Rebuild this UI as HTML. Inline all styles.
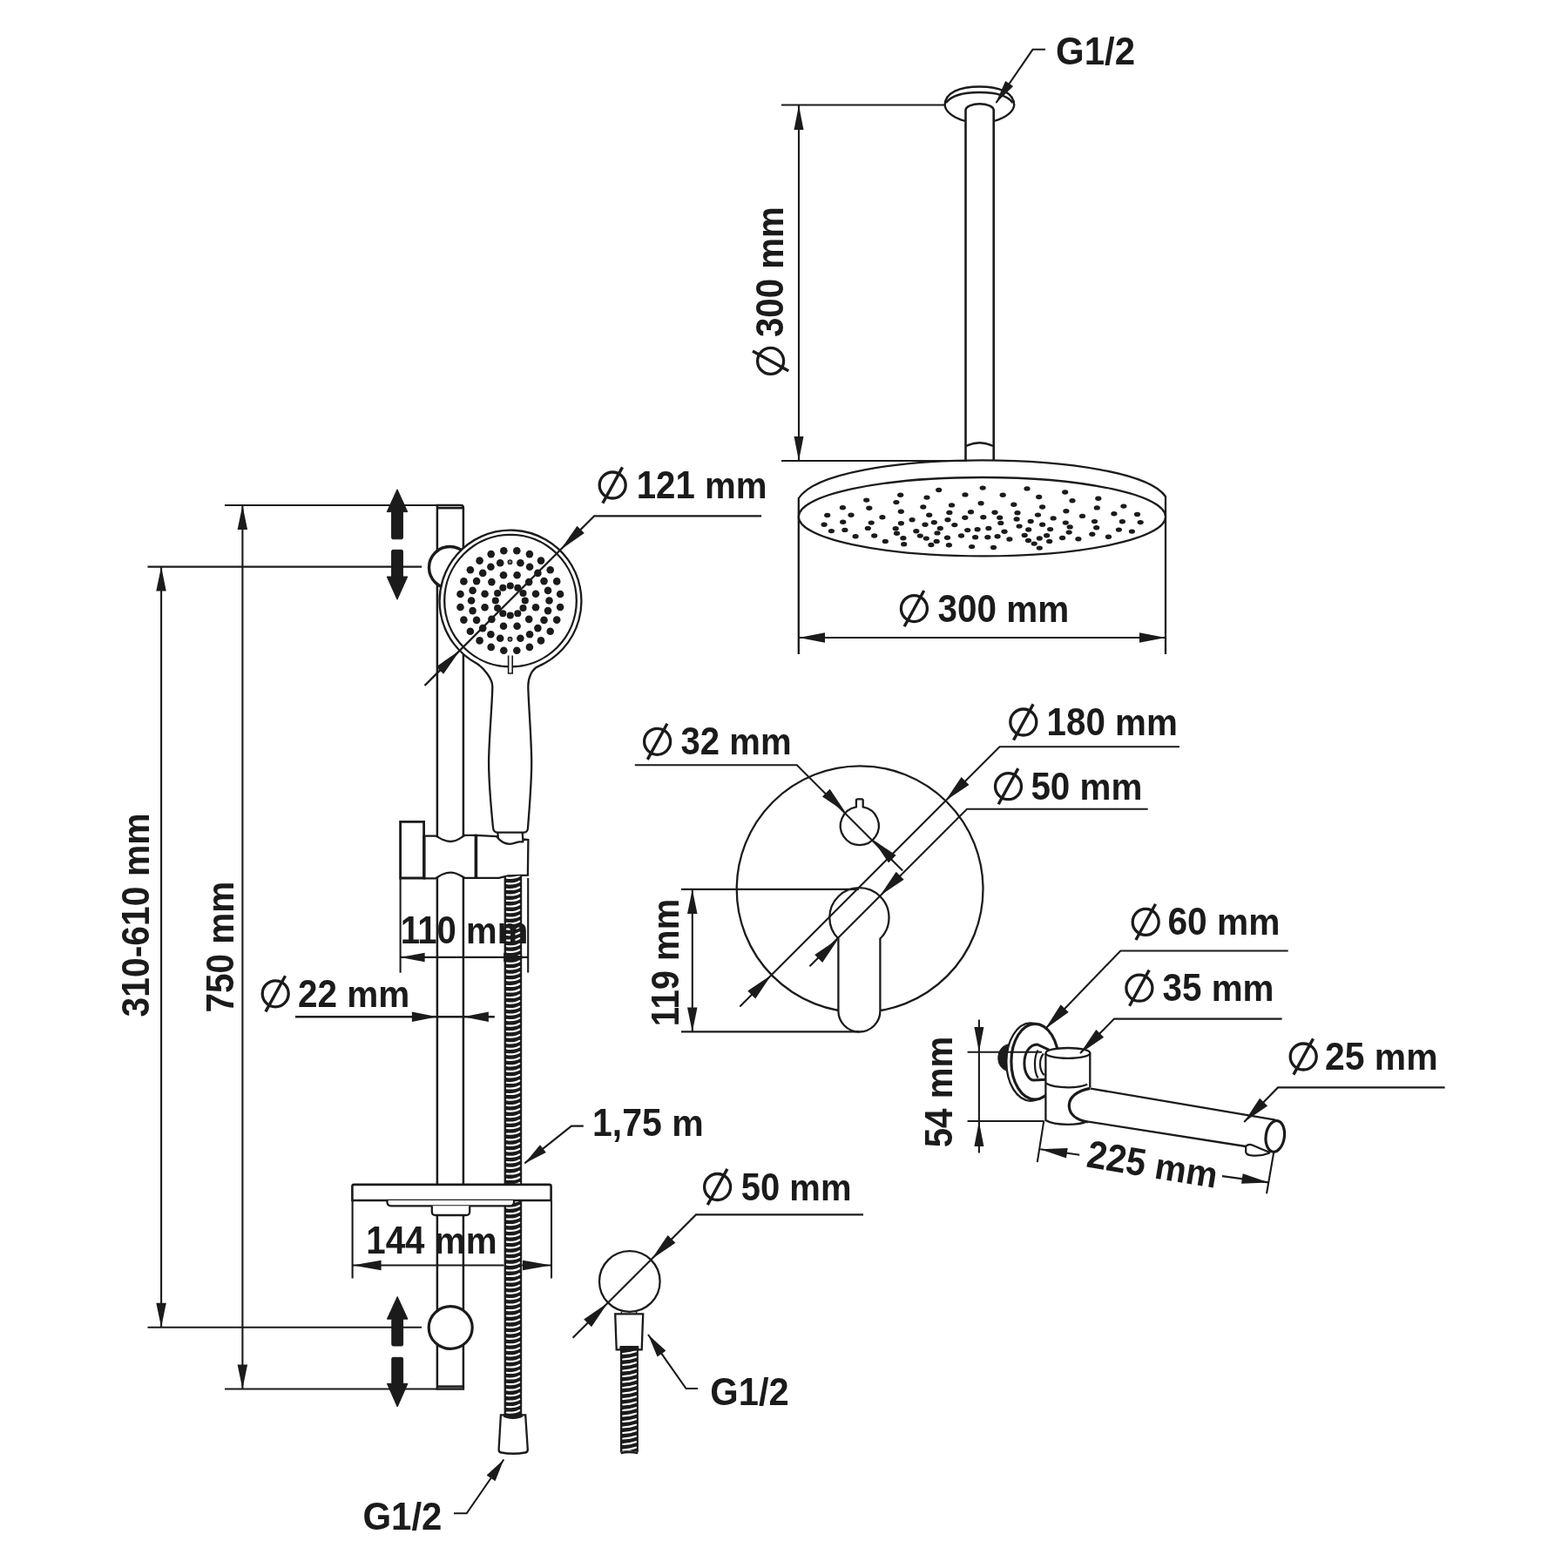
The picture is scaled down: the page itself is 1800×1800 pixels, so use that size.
<!DOCTYPE html>
<html><head><meta charset="utf-8"><title>Shower system dimensions</title>
<style>
html,body{margin:0;padding:0;background:#fff;}
svg{display:block}
text{font-family:"Liberation Sans",sans-serif;font-weight:bold;font-size:40px;fill:#1b1b1b;stroke:none}
svg{will-change:transform}
</style></head><body>
<svg width="1800" height="1800" viewBox="0 0 1800 1800" stroke="#1b1b1b" fill="none">
<rect width="1800" height="1800" fill="#fff" stroke="none"/>
<line x1="897.0" y1="120.5" x2="1084.0" y2="120.5" stroke-width="2.1" stroke-linecap="butt"/>
<line x1="897.0" y1="529.0" x2="1110.0" y2="529.0" stroke-width="2.1" stroke-linecap="butt"/>
<line x1="917.0" y1="121.0" x2="917.0" y2="529.0" stroke-width="2.1" stroke-linecap="butt"/>
<polygon points="917.0,121.0 922.5,149.0 911.5,149.0" fill="#1b1b1b" stroke="none"/>
<polygon points="917.0,529.0 911.5,501.0 922.5,501.0" fill="#1b1b1b" stroke="none"/>
<path d="M1084.6,121 C1084.6,106 1102,99.5 1124.5,99.5 C1147,99.5 1164.2,106 1164.2,121" stroke-width="2.3" fill="none" />
<path d="M1086,118 C1092,110 1106,106 1124.5,106 C1143,106 1157,110 1162.5,118" stroke-width="2.3" fill="none" />
<path d="M1084.6,120 C1084.6,127 1093,135 1108,139" stroke-width="2.3" fill="none" />
<path d="M1164.2,120 C1164.2,127 1156,135 1141,139" stroke-width="2.3" fill="none" />
<path d="M1108.5,528 V126.5 A16.1,7.3 0 0 1 1140.7,126.5 V528" stroke-width="2.6" fill="white" />
<path d="M1109,512 Q1124.5,504.5 1140,512" stroke-width="2.3" fill="none" />
<path d="M1200.0,56.8 L1185.5,56.8 L1143.5,118.0" stroke-width="2.1" fill="none" stroke-linejoin="miter"/>
<polygon points="1142.8,119.0 1154.2,92.9 1163.1,99.0" fill="#1b1b1b" stroke="none"/>
<g aria-label="G1/2" transform="translate(1212.02,74.00)"><g transform="scale(1.0494,1.1164)"><text y="0"><tspan x="0.00">G</tspan><tspan x="31.12">1</tspan><tspan x="53.36">/</tspan><tspan x="64.47">2</tspan></text></g></g>
<g aria-label="300 mm" transform="translate(899.20,387.11) rotate(-90)"><g transform="scale(1.0067,1.1200)"><text y="0"><tspan x="0.00">3</tspan><tspan x="22.25">0</tspan><tspan x="44.49">0</tspan></text></g><g transform="scale(1.0067,1.0528)"><text y="0"><tspan x="77.85">m</tspan><tspan x="113.42">m</tspan></text></g></g>
<g transform="rotate(-90 884.6 414.4)"><circle cx="884.6" cy="414.4" r="15" stroke-width="3.3" fill="none"/><line x1="873.3" y1="435.0" x2="895.9" y2="393.8" stroke-width="3.4" stroke-linecap="butt"/></g>
<path d="M916.8,751 V572 C935,543 1030,528.3 1127.4,528.3 C1225,528.3 1320,543 1338,570 V751" stroke-width="2.3" fill="none" />
<ellipse cx="1127.4" cy="593.2" rx="210.6" ry="45.2" stroke-width="2.3" fill="white"/>
<line x1="917.0" y1="732.0" x2="1338.0" y2="732.0" stroke-width="2.1" stroke-linecap="butt"/>
<polygon points="917.0,732.0 947.0,726.2 947.0,737.8" fill="#1b1b1b" stroke="none"/>
<polygon points="1338.0,732.0 1308.0,737.8 1308.0,726.2" fill="#1b1b1b" stroke="none"/>
<g><circle cx="1049.4" cy="698.6" r="15" stroke-width="3.3" fill="none"/><line x1="1038.1" y1="719.2" x2="1060.7" y2="678.0" stroke-width="3.4" stroke-linecap="butt"/></g>
<g aria-label="300 mm" transform="translate(1076.59,714.40)"><g transform="scale(1.0116,1.1164)"><text y="0"><tspan x="0.00">3</tspan><tspan x="22.25">0</tspan><tspan x="44.49">0</tspan></text></g><g transform="scale(1.0116,1.0494)"><text y="0"><tspan x="77.85">m</tspan><tspan x="113.42">m</tspan></text></g></g>
<g fill="#1b1b1b" stroke="none">
<ellipse cx="949.7" cy="591.5" rx="3.6" ry="2.7"/>
<ellipse cx="946.1" cy="602.3" rx="3.6" ry="2.7"/>
<ellipse cx="954.4" cy="609.6" rx="3.6" ry="2.7"/>
<ellipse cx="967.4" cy="582.7" rx="3.6" ry="2.7"/>
<ellipse cx="977.0" cy="591.3" rx="3.6" ry="2.7"/>
<ellipse cx="967.7" cy="599.2" rx="3.6" ry="2.7"/>
<ellipse cx="969.9" cy="608.4" rx="3.6" ry="2.7"/>
<ellipse cx="982.1" cy="615.7" rx="3.6" ry="2.7"/>
<ellipse cx="994.7" cy="574.1" rx="3.6" ry="2.7"/>
<ellipse cx="997.8" cy="583.2" rx="3.6" ry="2.7"/>
<ellipse cx="1000.2" cy="600.1" rx="3.6" ry="2.7"/>
<ellipse cx="996.3" cy="606.4" rx="3.6" ry="2.7"/>
<ellipse cx="1003.7" cy="615.0" rx="3.6" ry="2.7"/>
<ellipse cx="1012.9" cy="593.7" rx="3.6" ry="2.7"/>
<ellipse cx="1016.3" cy="621.4" rx="3.6" ry="2.7"/>
<ellipse cx="1033.7" cy="568.3" rx="3.6" ry="2.7"/>
<ellipse cx="1028.9" cy="576.6" rx="3.6" ry="2.7"/>
<ellipse cx="1034.3" cy="587.2" rx="3.6" ry="2.7"/>
<ellipse cx="1034.4" cy="600.7" rx="3.6" ry="2.7"/>
<ellipse cx="1028.2" cy="606.8" rx="3.6" ry="2.7"/>
<ellipse cx="1029.5" cy="612.3" rx="3.6" ry="2.7"/>
<ellipse cx="1036.9" cy="617.8" rx="3.6" ry="2.7"/>
<ellipse cx="1037.7" cy="624.7" rx="3.6" ry="2.7"/>
<ellipse cx="1047.1" cy="596.8" rx="3.6" ry="2.7"/>
<ellipse cx="1051.8" cy="609.8" rx="3.6" ry="2.7"/>
<ellipse cx="1056.3" cy="615.1" rx="3.6" ry="2.7"/>
<ellipse cx="1064.0" cy="571.1" rx="3.6" ry="2.7"/>
<ellipse cx="1059.8" cy="582.0" rx="3.6" ry="2.7"/>
<ellipse cx="1066.7" cy="591.3" rx="3.6" ry="2.7"/>
<ellipse cx="1062.0" cy="602.3" rx="3.6" ry="2.7"/>
<ellipse cx="1063.3" cy="618.1" rx="3.6" ry="2.7"/>
<ellipse cx="1068.9" cy="625.5" rx="3.6" ry="2.7"/>
<ellipse cx="1072.3" cy="599.7" rx="3.6" ry="2.7"/>
<ellipse cx="1079.3" cy="606.5" rx="3.6" ry="2.7"/>
<ellipse cx="1076.0" cy="611.9" rx="3.6" ry="2.7"/>
<ellipse cx="1075.2" cy="621.4" rx="3.6" ry="2.7"/>
<ellipse cx="1077.7" cy="562.5" rx="3.6" ry="2.7"/>
<ellipse cx="1092.5" cy="579.9" rx="3.6" ry="2.7"/>
<ellipse cx="1089.9" cy="588.4" rx="3.6" ry="2.7"/>
<ellipse cx="1088.0" cy="596.8" rx="3.6" ry="2.7"/>
<ellipse cx="1095.8" cy="602.6" rx="3.6" ry="2.7"/>
<ellipse cx="1087.5" cy="617.3" rx="3.6" ry="2.7"/>
<ellipse cx="1089.4" cy="625.7" rx="3.6" ry="2.7"/>
<ellipse cx="1108.0" cy="567.9" rx="3.6" ry="2.7"/>
<ellipse cx="1114.5" cy="587.8" rx="3.6" ry="2.7"/>
<ellipse cx="1107.8" cy="594.2" rx="3.6" ry="2.7"/>
<ellipse cx="1110.7" cy="608.6" rx="3.6" ry="2.7"/>
<ellipse cx="1103.5" cy="615.0" rx="3.6" ry="2.7"/>
<ellipse cx="1115.6" cy="627.6" rx="3.6" ry="2.7"/>
<ellipse cx="1128.2" cy="560.1" rx="3.6" ry="2.7"/>
<ellipse cx="1126.1" cy="577.8" rx="3.6" ry="2.7"/>
<ellipse cx="1128.8" cy="593.7" rx="3.6" ry="2.7"/>
<ellipse cx="1122.1" cy="607.8" rx="3.6" ry="2.7"/>
<ellipse cx="1119.6" cy="616.8" rx="3.6" ry="2.7"/>
<ellipse cx="1151.2" cy="568.3" rx="3.6" ry="2.7"/>
<ellipse cx="1179.0" cy="560.9" rx="3.6" ry="2.7"/>
<ellipse cx="1163.8" cy="579.3" rx="3.6" ry="2.7"/>
<ellipse cx="1142.0" cy="588.2" rx="3.6" ry="2.7"/>
<ellipse cx="1147.7" cy="594.2" rx="3.6" ry="2.7"/>
<ellipse cx="1148.8" cy="600.4" rx="3.6" ry="2.7"/>
<ellipse cx="1134.9" cy="606.5" rx="3.6" ry="2.7"/>
<ellipse cx="1153.0" cy="610.2" rx="3.6" ry="2.7"/>
<ellipse cx="1133.8" cy="616.8" rx="3.6" ry="2.7"/>
<ellipse cx="1145.1" cy="615.7" rx="3.6" ry="2.7"/>
<ellipse cx="1158.9" cy="619.0" rx="3.6" ry="2.7"/>
<ellipse cx="1140.5" cy="628.5" rx="3.6" ry="2.7"/>
<ellipse cx="1168.0" cy="588.8" rx="3.6" ry="2.7"/>
<ellipse cx="1167.1" cy="596.0" rx="3.6" ry="2.7"/>
<ellipse cx="1170.1" cy="604.1" rx="3.6" ry="2.7"/>
<ellipse cx="1183.2" cy="598.5" rx="3.6" ry="2.7"/>
<ellipse cx="1180.7" cy="608.0" rx="3.6" ry="2.7"/>
<ellipse cx="1176.2" cy="614.5" rx="3.6" ry="2.7"/>
<ellipse cx="1180.5" cy="620.5" rx="3.6" ry="2.7"/>
<ellipse cx="1187.2" cy="624.1" rx="3.6" ry="2.7"/>
<ellipse cx="1193.3" cy="629.1" rx="3.6" ry="2.7"/>
<ellipse cx="1192.7" cy="570.5" rx="3.6" ry="2.7"/>
<ellipse cx="1196.6" cy="582.0" rx="3.6" ry="2.7"/>
<ellipse cx="1191.5" cy="591.1" rx="3.6" ry="2.7"/>
<ellipse cx="1196.6" cy="602.3" rx="3.6" ry="2.7"/>
<ellipse cx="1205.6" cy="607.6" rx="3.6" ry="2.7"/>
<ellipse cx="1201.6" cy="614.8" rx="3.6" ry="2.7"/>
<ellipse cx="1193.3" cy="618.0" rx="3.6" ry="2.7"/>
<ellipse cx="1204.7" cy="621.4" rx="3.6" ry="2.7"/>
<ellipse cx="1209.2" cy="594.9" rx="3.6" ry="2.7"/>
<ellipse cx="1222.7" cy="565.0" rx="3.6" ry="2.7"/>
<ellipse cx="1231.0" cy="574.8" rx="3.6" ry="2.7"/>
<ellipse cx="1223.9" cy="586.7" rx="3.6" ry="2.7"/>
<ellipse cx="1223.3" cy="600.1" rx="3.6" ry="2.7"/>
<ellipse cx="1228.2" cy="604.9" rx="3.6" ry="2.7"/>
<ellipse cx="1227.2" cy="611.1" rx="3.6" ry="2.7"/>
<ellipse cx="1219.6" cy="617.5" rx="3.6" ry="2.7"/>
<ellipse cx="1237.9" cy="618.8" rx="3.6" ry="2.7"/>
<ellipse cx="1242.5" cy="592.4" rx="3.6" ry="2.7"/>
<ellipse cx="1260.8" cy="572.3" rx="3.6" ry="2.7"/>
<ellipse cx="1259.3" cy="582.9" rx="3.6" ry="2.7"/>
<ellipse cx="1256.5" cy="598.6" rx="3.6" ry="2.7"/>
<ellipse cx="1258.7" cy="605.7" rx="3.6" ry="2.7"/>
<ellipse cx="1253.8" cy="613.3" rx="3.6" ry="2.7"/>
<ellipse cx="1272.5" cy="616.3" rx="3.6" ry="2.7"/>
<ellipse cx="1278.9" cy="589.8" rx="3.6" ry="2.7"/>
<ellipse cx="1289.9" cy="581.1" rx="3.6" ry="2.7"/>
<ellipse cx="1288.4" cy="598.8" rx="3.6" ry="2.7"/>
<ellipse cx="1284.4" cy="608.1" rx="3.6" ry="2.7"/>
<ellipse cx="1299.4" cy="610.1" rx="3.6" ry="2.7"/>
<ellipse cx="1305.5" cy="590.5" rx="3.6" ry="2.7"/>
<ellipse cx="1309.2" cy="599.6" rx="3.6" ry="2.7"/>
</g>
<line x1="258.0" y1="580.0" x2="501.9" y2="580.0" stroke-width="2.1" stroke-linecap="butt"/>
<line x1="258.0" y1="1594.5" x2="501.9" y2="1594.5" stroke-width="2.1" stroke-linecap="butt"/>
<line x1="278.4" y1="580.0" x2="278.4" y2="1594.5" stroke-width="2.1" stroke-linecap="butt"/>
<polygon points="278.4,580.0 284.1,608.0 272.6,608.0" fill="#1b1b1b" stroke="none"/>
<polygon points="278.4,1594.5 272.6,1566.5 284.1,1566.5" fill="#1b1b1b" stroke="none"/>
<line x1="169.5" y1="650.6" x2="484.0" y2="650.6" stroke-width="2.1" stroke-linecap="butt"/>
<line x1="169.5" y1="1523.8" x2="484.0" y2="1523.8" stroke-width="2.1" stroke-linecap="butt"/>
<line x1="185.1" y1="650.6" x2="185.1" y2="1523.8" stroke-width="2.1" stroke-linecap="butt"/>
<polygon points="185.1,650.6 190.8,678.6 179.3,678.6" fill="#1b1b1b" stroke="none"/>
<polygon points="185.1,1523.8 179.3,1495.8 190.8,1495.8" fill="#1b1b1b" stroke="none"/>
<g aria-label="310-610 mm" transform="translate(170.80,1167.62) rotate(-90)"><g transform="scale(1.0231,1.1200)"><text y="0"><tspan x="0.00">3</tspan><tspan x="22.25">1</tspan><tspan x="44.49">0</tspan><tspan x="66.74">-</tspan><tspan x="80.06">6</tspan><tspan x="102.31">1</tspan><tspan x="124.55">0</tspan></text></g><g transform="scale(1.0231,1.0528)"><text y="0"><tspan x="157.91">m</tspan><tspan x="193.48">m</tspan></text></g></g>
<g aria-label="750 mm" transform="translate(267.50,1162.52) rotate(-90)"><g transform="scale(1.0123,1.1200)"><text y="0"><tspan x="0.00">7</tspan><tspan x="22.25">5</tspan><tspan x="44.49">0</tspan></text></g><g transform="scale(1.0123,1.0528)"><text y="0"><tspan x="77.85">m</tspan><tspan x="113.42">m</tspan></text></g></g>
<path d="M501.9,1594.5 V580 H529 Q531.9,580 531.9,583 V1594.5 Z" stroke-width="2.5" fill="white" />
<line x1="501.9" y1="583.2" x2="531.9" y2="583.2" stroke-width="2.5" stroke-linecap="butt"/>
<line x1="501.9" y1="1591.6" x2="531.9" y2="1591.6" stroke-width="2.5" stroke-linecap="butt"/>
<circle cx="516.5" cy="651.5" r="24.0" stroke-width="3.4" fill="white"/>
<ellipse cx="517.2" cy="1524.0" rx="25.0" ry="24.3" stroke-width="3.2" fill="white"/>
<path d="M456,561.8 L467.8,587.6 H462.4 V617.3 Q462.4,618.8 460.9,618.8 H451.1 Q449.6,618.8 449.6,617.3 V587.6 H444.2 Z" fill="#1b1b1b" stroke="#1b1b1b" stroke-width="1" stroke-linejoin="round"/>
<path d="M456,688.2 L467.8,662 H462.4 V632.8 Q462.4,631.3 460.9,631.3 H451.1 Q449.6,631.3 449.6,632.8 V662 H444.2 Z" fill="#1b1b1b" stroke="#1b1b1b" stroke-width="1" stroke-linejoin="round"/>
<path d="M456.2,1488.5 L468.0,1514.2 H462.59999999999997 V1543.5 Q462.59999999999997,1545 461.09999999999997,1545 H451.3 Q449.8,1545 449.8,1543.5 V1514.2 H444.4 Z" fill="#1b1b1b" stroke="#1b1b1b" stroke-width="1" stroke-linejoin="round"/>
<path d="M456.2,1615 L468.0,1588.3 H462.59999999999997 V1559.8 Q462.59999999999997,1558.3 461.09999999999997,1558.3 H451.3 Q449.8,1558.3 449.8,1559.8 V1588.3 H444.4 Z" fill="#1b1b1b" stroke="#1b1b1b" stroke-width="1" stroke-linejoin="round"/>
<path d="M571,955.6 Q566.5,955.5 566,950 C564,930 561.1,900 561.1,875 C561.1,850 565.3,805 565.3,788 C565.3,779 555,766.5 547,761.5 A81.4,81.4 0 1 1 618,764.9 C610.6,768 606.3,778 606.3,788 C606.5,805 610.2,850 610.2,875 C610.2,900 607.5,930 606,950.5 Q605.7,955.5 601.5,955.6 Z" stroke-width="2.3" fill="white" />
<circle cx="586.0" cy="689.6" r="75.8" stroke-width="2.3" fill="none"/>
<g fill="#1b1b1b" stroke="none">
<circle cx="585.8" cy="672.5" r="4.05"/>
<circle cx="594.3" cy="674.8" r="4.05"/>
<circle cx="600.5" cy="681.0" r="4.05"/>
<circle cx="602.8" cy="689.5" r="4.05"/>
<circle cx="600.5" cy="698.0" r="4.05"/>
<circle cx="594.3" cy="704.2" r="4.05"/>
<circle cx="585.8" cy="706.5" r="4.05"/>
<circle cx="577.3" cy="704.2" r="4.05"/>
<circle cx="571.1" cy="698.0" r="4.05"/>
<circle cx="568.8" cy="689.5" r="4.05"/>
<circle cx="571.1" cy="681.0" r="4.05"/>
<circle cx="577.3" cy="674.8" r="4.05"/>
<circle cx="593.6" cy="660.3" r="4.3"/>
<circle cx="607.2" cy="668.1" r="4.3"/>
<circle cx="615.0" cy="681.7" r="4.3"/>
<circle cx="615.0" cy="697.3" r="4.3"/>
<circle cx="607.2" cy="710.9" r="4.3"/>
<circle cx="593.6" cy="718.7" r="4.3"/>
<circle cx="578.0" cy="718.7" r="4.3"/>
<circle cx="564.4" cy="710.9" r="4.3"/>
<circle cx="556.6" cy="697.3" r="4.3"/>
<circle cx="556.6" cy="681.7" r="4.3"/>
<circle cx="564.4" cy="668.1" r="4.3"/>
<circle cx="578.0" cy="660.3" r="4.3"/>
<circle cx="597.4" cy="646.3" r="4.3"/>
<circle cx="608.1" cy="650.8" r="4.3"/>
<circle cx="617.4" cy="657.9" r="4.3"/>
<circle cx="624.5" cy="667.1" r="4.3"/>
<circle cx="629.0" cy="677.9" r="4.3"/>
<circle cx="630.5" cy="689.5" r="4.3"/>
<circle cx="629.0" cy="701.1" r="4.3"/>
<circle cx="624.5" cy="711.9" r="4.3"/>
<circle cx="617.4" cy="721.1" r="4.3"/>
<circle cx="608.1" cy="728.2" r="4.3"/>
<circle cx="597.4" cy="732.7" r="4.3"/>
<circle cx="574.2" cy="732.7" r="4.3"/>
<circle cx="563.4" cy="728.2" r="4.3"/>
<circle cx="554.2" cy="721.1" r="4.3"/>
<circle cx="547.1" cy="711.9" r="4.3"/>
<circle cx="542.6" cy="701.1" r="4.3"/>
<circle cx="541.1" cy="689.5" r="4.3"/>
<circle cx="542.6" cy="677.9" r="4.3"/>
<circle cx="547.1" cy="667.1" r="4.3"/>
<circle cx="554.2" cy="657.9" r="4.3"/>
<circle cx="563.4" cy="650.8" r="4.3"/>
<circle cx="574.2" cy="646.3" r="4.3"/>
<circle cx="593.3" cy="632.2" r="4.3"/>
<circle cx="607.9" cy="636.1" r="4.3"/>
<circle cx="621.0" cy="643.6" r="4.3"/>
<circle cx="631.7" cy="654.3" r="4.3"/>
<circle cx="639.2" cy="667.4" r="4.3"/>
<circle cx="643.1" cy="682.0" r="4.3"/>
<circle cx="643.1" cy="697.0" r="4.3"/>
<circle cx="639.2" cy="711.6" r="4.3"/>
<circle cx="631.7" cy="724.7" r="4.3"/>
<circle cx="621.0" cy="735.4" r="4.3"/>
<circle cx="607.9" cy="742.9" r="4.3"/>
<circle cx="593.3" cy="746.8" r="4.3"/>
<circle cx="578.3" cy="746.8" r="4.3"/>
<circle cx="563.7" cy="742.9" r="4.3"/>
<circle cx="550.6" cy="735.4" r="4.3"/>
<circle cx="539.9" cy="724.7" r="4.3"/>
<circle cx="532.4" cy="711.6" r="4.3"/>
<circle cx="528.5" cy="697.0" r="4.3"/>
<circle cx="528.5" cy="682.0" r="4.3"/>
<circle cx="532.4" cy="667.4" r="4.3"/>
<circle cx="539.9" cy="654.3" r="4.3"/>
<circle cx="550.6" cy="643.6" r="4.3"/>
<circle cx="563.7" cy="636.1" r="4.3"/>
<circle cx="578.3" cy="632.2" r="4.3"/>
</g>
<circle cx="585.5" cy="645.2" r="2.3" stroke-width="1.3" fill="#777"/>
<circle cx="585.5" cy="733.8" r="2.3" stroke-width="1.3" fill="#777"/>
<path d="M583.6,752.5 V773 H588.2 V752.5" stroke-width="1.6" fill="white" />
<path d="M874.0,592.3 L682.2,592.3 L487.5,787.0" stroke-width="2.3" fill="none" stroke-linejoin="miter"/>
<polygon points="643.3,631.2 662.5,603.7 670.8,612.0" fill="#1b1b1b" stroke="none"/>
<polygon points="528.3,746.2 509.1,773.7 500.8,765.4" fill="#1b1b1b" stroke="none"/>
<g><circle cx="703.2" cy="557.0" r="15" stroke-width="3.3" fill="none"/><line x1="691.9" y1="577.6" x2="714.5" y2="536.4" stroke-width="3.4" stroke-linecap="butt"/></g>
<g aria-label="121 mm" transform="translate(730.72,572.00)"><g transform="scale(1.0052,1.1164)"><text y="0"><tspan x="0.00">1</tspan><tspan x="22.25">2</tspan><tspan x="44.49">1</tspan></text></g><g transform="scale(1.0052,1.0494)"><text y="0"><tspan x="77.85">m</tspan><tspan x="113.42">m</tspan></text></g></g>
<path d="M571.3,955.5 L571.9,962 M599.7,955.5 L600.4,965" stroke-width="2.3" fill="none" />
<path d="M459.6,943.3 H486.6 V1008 H459.6 Z" stroke-width="2.8" fill="white" />
<path d="M487,959.7 H500 C504,960.5 508,966 517,966 C526,966 530,960.5 533.5,958.9 L546.3,958.9 V1007.9 L533.5,1007.9 C530,1006.5 526,1001.6 517,1001.6 C508,1001.6 504,1006.5 500,1008.3 H487 Z" stroke-width="2.3" fill="white" />
<path d="M546.3,958.9 L570,960.2 C573,964 578,968.6 585,968.8 C590,968.8 593.5,966.6 596,966.3 L600.2,966.3 L601,963.6 L606.4,964.1 L605.9,1004.6 L583,1005.5 L572.7,1007.9 L546.3,1007.9 Z" stroke-width="2.3" fill="white" />
<line x1="546.4" y1="958.6" x2="546.4" y2="1008.2" stroke-width="3.6" stroke-linecap="butt"/>
<line x1="486.9" y1="959.4" x2="486.9" y2="1008.6" stroke-width="3.2" stroke-linecap="butt"/>
<line x1="459.6" y1="1009.0" x2="459.6" y2="1116.7" stroke-width="2.1" stroke-linecap="butt"/>
<line x1="606.2" y1="1008.0" x2="606.2" y2="1116.5" stroke-width="2.1" stroke-linecap="butt"/>
<rect x="578.6" y="1005.5" width="20.600000000000023" height="354.5" fill="#1b1b1b" stroke="none"/>
<clipPath id="c578_1005"><rect x="578.6" y="1005.5" width="20.600000000000023" height="354.5"/></clipPath>
<g clip-path="url(#c578_1005)" stroke="#fff" stroke-width="2.2" fill="none" stroke-linecap="round">
<path d="M581.9,1007.7 C588.9,1008.4 593.0,1007.5 596.2,1005.4"/>
<path d="M581.9,1014.2 C588.9,1014.9 593.0,1014.0 596.2,1011.9"/>
<path d="M581.9,1020.8 C588.9,1021.5 593.0,1020.6 596.2,1018.5"/>
<path d="M581.9,1027.3 C588.9,1028.0 593.0,1027.1 596.2,1025.0"/>
<path d="M581.9,1033.8 C588.9,1034.5 593.0,1033.6 596.2,1031.5"/>
<path d="M581.9,1040.3 C588.9,1041.0 593.0,1040.1 596.2,1038.0"/>
<path d="M581.9,1046.9 C588.9,1047.6 593.0,1046.7 596.2,1044.6"/>
<path d="M581.9,1053.4 C588.9,1054.1 593.0,1053.2 596.2,1051.1"/>
<path d="M581.9,1059.9 C588.9,1060.6 593.0,1059.7 596.2,1057.6"/>
<path d="M581.9,1066.5 C588.9,1067.2 593.0,1066.3 596.2,1064.2"/>
<path d="M581.9,1073.0 C588.9,1073.7 593.0,1072.8 596.2,1070.7"/>
<path d="M581.9,1079.5 C588.9,1080.2 593.0,1079.3 596.2,1077.2"/>
<path d="M581.9,1086.1 C588.9,1086.8 593.0,1085.9 596.2,1083.8"/>
<path d="M581.9,1092.6 C588.9,1093.3 593.0,1092.4 596.2,1090.3"/>
<path d="M581.9,1099.1 C588.9,1099.8 593.0,1098.9 596.2,1096.8"/>
<path d="M581.9,1105.6 C588.9,1106.3 593.0,1105.4 596.2,1103.3"/>
<path d="M581.9,1112.2 C588.9,1112.9 593.0,1112.0 596.2,1109.9"/>
<path d="M581.9,1118.7 C588.9,1119.4 593.0,1118.5 596.2,1116.4"/>
<path d="M581.9,1125.2 C588.9,1125.9 593.0,1125.0 596.2,1122.9"/>
<path d="M581.9,1131.8 C588.9,1132.5 593.0,1131.6 596.2,1129.5"/>
<path d="M581.9,1138.3 C588.9,1139.0 593.0,1138.1 596.2,1136.0"/>
<path d="M581.9,1144.8 C588.9,1145.5 593.0,1144.6 596.2,1142.5"/>
<path d="M581.9,1151.4 C588.9,1152.1 593.0,1151.2 596.2,1149.1"/>
<path d="M581.9,1157.9 C588.9,1158.6 593.0,1157.7 596.2,1155.6"/>
<path d="M581.9,1164.4 C588.9,1165.1 593.0,1164.2 596.2,1162.1"/>
<path d="M581.9,1170.9 C588.9,1171.6 593.0,1170.7 596.2,1168.6"/>
<path d="M581.9,1177.5 C588.9,1178.2 593.0,1177.3 596.2,1175.2"/>
<path d="M581.9,1184.0 C588.9,1184.7 593.0,1183.8 596.2,1181.7"/>
<path d="M581.9,1190.5 C588.9,1191.2 593.0,1190.3 596.2,1188.2"/>
<path d="M581.9,1197.1 C588.9,1197.8 593.0,1196.9 596.2,1194.8"/>
<path d="M581.9,1203.6 C588.9,1204.3 593.0,1203.4 596.2,1201.3"/>
<path d="M581.9,1210.1 C588.9,1210.8 593.0,1209.9 596.2,1207.8"/>
<path d="M581.9,1216.7 C588.9,1217.4 593.0,1216.5 596.2,1214.4"/>
<path d="M581.9,1223.2 C588.9,1223.9 593.0,1223.0 596.2,1220.9"/>
<path d="M581.9,1229.7 C588.9,1230.4 593.0,1229.5 596.2,1227.4"/>
<path d="M581.9,1236.2 C588.9,1236.9 593.0,1236.0 596.2,1233.9"/>
<path d="M581.9,1242.8 C588.9,1243.5 593.0,1242.6 596.2,1240.5"/>
<path d="M581.9,1249.3 C588.9,1250.0 593.0,1249.1 596.2,1247.0"/>
<path d="M581.9,1255.8 C588.9,1256.5 593.0,1255.6 596.2,1253.5"/>
<path d="M581.9,1262.4 C588.9,1263.1 593.0,1262.2 596.2,1260.1"/>
<path d="M581.9,1268.9 C588.9,1269.6 593.0,1268.7 596.2,1266.6"/>
<path d="M581.9,1275.4 C588.9,1276.1 593.0,1275.2 596.2,1273.1"/>
<path d="M581.9,1282.0 C588.9,1282.7 593.0,1281.8 596.2,1279.7"/>
<path d="M581.9,1288.5 C588.9,1289.2 593.0,1288.3 596.2,1286.2"/>
<path d="M581.9,1295.0 C588.9,1295.7 593.0,1294.8 596.2,1292.7"/>
<path d="M581.9,1301.5 C588.9,1302.2 593.0,1301.3 596.2,1299.2"/>
<path d="M581.9,1308.1 C588.9,1308.8 593.0,1307.9 596.2,1305.8"/>
<path d="M581.9,1314.6 C588.9,1315.3 593.0,1314.4 596.2,1312.3"/>
<path d="M581.9,1321.1 C588.9,1321.8 593.0,1320.9 596.2,1318.8"/>
<path d="M581.9,1327.7 C588.9,1328.4 593.0,1327.5 596.2,1325.4"/>
<path d="M581.9,1334.2 C588.9,1334.9 593.0,1334.0 596.2,1331.9"/>
<path d="M581.9,1340.7 C588.9,1341.4 593.0,1340.5 596.2,1338.4"/>
<path d="M581.9,1347.3 C588.9,1348.0 593.0,1347.1 596.2,1345.0"/>
<path d="M581.9,1353.8 C588.9,1354.5 593.0,1353.6 596.2,1351.5"/>
<path d="M581.9,1360.3 C588.9,1361.0 593.0,1360.1 596.2,1358.0"/>
</g>
<rect x="578.6" y="1378.5" width="20.600000000000023" height="250.0" fill="#1b1b1b" stroke="none"/>
<clipPath id="c578_1378"><rect x="578.6" y="1378.5" width="20.600000000000023" height="250.0"/></clipPath>
<g clip-path="url(#c578_1378)" stroke="#fff" stroke-width="2.2" fill="none" stroke-linecap="round">
<path d="M581.9,1379.9 C588.9,1380.6 593.0,1379.7 596.2,1377.6"/>
<path d="M581.9,1386.4 C588.9,1387.1 593.0,1386.2 596.2,1384.1"/>
<path d="M581.9,1393.0 C588.9,1393.7 593.0,1392.8 596.2,1390.7"/>
<path d="M581.9,1399.5 C588.9,1400.2 593.0,1399.3 596.2,1397.2"/>
<path d="M581.9,1406.0 C588.9,1406.7 593.0,1405.8 596.2,1403.7"/>
<path d="M581.9,1412.6 C588.9,1413.3 593.0,1412.4 596.2,1410.3"/>
<path d="M581.9,1419.1 C588.9,1419.8 593.0,1418.9 596.2,1416.8"/>
<path d="M581.9,1425.6 C588.9,1426.3 593.0,1425.4 596.2,1423.3"/>
<path d="M581.9,1432.1 C588.9,1432.8 593.0,1431.9 596.2,1429.8"/>
<path d="M581.9,1438.7 C588.9,1439.4 593.0,1438.5 596.2,1436.4"/>
<path d="M581.9,1445.2 C588.9,1445.9 593.0,1445.0 596.2,1442.9"/>
<path d="M581.9,1451.7 C588.9,1452.4 593.0,1451.5 596.2,1449.4"/>
<path d="M581.9,1458.3 C588.9,1459.0 593.0,1458.1 596.2,1456.0"/>
<path d="M581.9,1464.8 C588.9,1465.5 593.0,1464.6 596.2,1462.5"/>
<path d="M581.9,1471.3 C588.9,1472.0 593.0,1471.1 596.2,1469.0"/>
<path d="M581.9,1477.9 C588.9,1478.6 593.0,1477.7 596.2,1475.6"/>
<path d="M581.9,1484.4 C588.9,1485.1 593.0,1484.2 596.2,1482.1"/>
<path d="M581.9,1490.9 C588.9,1491.6 593.0,1490.7 596.2,1488.6"/>
<path d="M581.9,1497.4 C588.9,1498.1 593.0,1497.2 596.2,1495.1"/>
<path d="M581.9,1504.0 C588.9,1504.7 593.0,1503.8 596.2,1501.7"/>
<path d="M581.9,1510.5 C588.9,1511.2 593.0,1510.3 596.2,1508.2"/>
<path d="M581.9,1517.0 C588.9,1517.7 593.0,1516.8 596.2,1514.7"/>
<path d="M581.9,1523.6 C588.9,1524.3 593.0,1523.4 596.2,1521.3"/>
<path d="M581.9,1530.1 C588.9,1530.8 593.0,1529.9 596.2,1527.8"/>
<path d="M581.9,1536.6 C588.9,1537.3 593.0,1536.4 596.2,1534.3"/>
<path d="M581.9,1543.2 C588.9,1543.9 593.0,1543.0 596.2,1540.9"/>
<path d="M581.9,1549.7 C588.9,1550.4 593.0,1549.5 596.2,1547.4"/>
<path d="M581.9,1556.2 C588.9,1556.9 593.0,1556.0 596.2,1553.9"/>
<path d="M581.9,1562.7 C588.9,1563.4 593.0,1562.5 596.2,1560.4"/>
<path d="M581.9,1569.3 C588.9,1570.0 593.0,1569.1 596.2,1567.0"/>
<path d="M581.9,1575.8 C588.9,1576.5 593.0,1575.6 596.2,1573.5"/>
<path d="M581.9,1582.3 C588.9,1583.0 593.0,1582.1 596.2,1580.0"/>
<path d="M581.9,1588.9 C588.9,1589.6 593.0,1588.7 596.2,1586.6"/>
<path d="M581.9,1595.4 C588.9,1596.1 593.0,1595.2 596.2,1593.1"/>
<path d="M581.9,1601.9 C588.9,1602.6 593.0,1601.7 596.2,1599.6"/>
<path d="M581.9,1608.5 C588.9,1609.2 593.0,1608.3 596.2,1606.2"/>
<path d="M581.9,1615.0 C588.9,1615.7 593.0,1614.8 596.2,1612.7"/>
<path d="M581.9,1621.5 C588.9,1622.2 593.0,1621.3 596.2,1619.2"/>
<path d="M581.9,1628.0 C588.9,1628.7 593.0,1627.8 596.2,1625.7"/>
</g>
<line x1="459.6" y1="1098.9" x2="606.2" y2="1098.9" stroke-width="2.1" stroke-linecap="butt"/>
<polygon points="459.6,1098.9 487.6,1093.7 487.6,1104.2" fill="#1b1b1b" stroke="none"/>
<polygon points="606.2,1098.9 578.2,1104.2 578.2,1093.7" fill="#1b1b1b" stroke="none"/>
<g aria-label="110 mm" transform="translate(459.63,1083.30)"><g transform="scale(1.0024,1.1164)"><text y="0"><tspan x="0.00">1</tspan><tspan x="19.65">1</tspan><tspan x="41.89">0</tspan></text></g><g transform="scale(1.0024,1.0494)"><text y="0"><tspan x="75.25">m</tspan><tspan x="110.82">m</tspan></text></g></g>
<line x1="339.0" y1="1167.3" x2="567.8" y2="1167.3" stroke-width="2.6" stroke-linecap="butt"/>
<polygon points="501.9,1167.3 472.9,1173.0 472.9,1161.5" fill="#1b1b1b" stroke="none"/>
<polygon points="531.9,1167.3 560.9,1161.5 560.9,1173.0" fill="#1b1b1b" stroke="none"/>
<g><circle cx="316.2" cy="1140.8" r="15" stroke-width="3.3" fill="none"/><line x1="304.9" y1="1161.4" x2="327.5" y2="1120.2" stroke-width="3.4" stroke-linecap="butt"/></g>
<g aria-label="22 mm" transform="translate(341.88,1155.60)"><g transform="scale(1.0133,1.1164)"><text y="0"><tspan x="0.00">2</tspan><tspan x="22.25">2</tspan></text></g><g transform="scale(1.0133,1.0494)"><text y="0"><tspan x="55.61">m</tspan><tspan x="91.17">m</tspan></text></g></g>
<path d="M669.8,1292.6 L656.0,1292.6 L602.3,1335.4" stroke-width="2.1" fill="none" stroke-linejoin="miter"/>
<polygon points="602.3,1335.4 620.0,1314.3 626.8,1322.9" fill="#1b1b1b" stroke="none"/>
<g aria-label="1,75 m" transform="translate(679.96,1304.30)"><g transform="scale(1.0260,1.1164)"><text y="0"><tspan x="0.00">1</tspan><tspan x="22.25">,</tspan><tspan x="33.36">7</tspan><tspan x="55.61">5</tspan></text></g><g transform="scale(1.0260,1.0494)"><text y="0"><tspan x="88.96">m</tspan></text></g></g>
<path d="M404.4,1378 V1362 Q404.4,1359.9 406.5,1359.9 H630.5 Q632.6,1359.9 632.6,1362 V1378 Z" stroke-width="2.6" fill="white" />
<path d="M444.5,1378 V1380 Q444.5,1384.3 449,1384.3 H585.5 Q590,1384.3 590,1380 V1378" stroke-width="2.3" fill="white" />
<path d="M495.8,1384.3 V1391 Q495.8,1395 500,1395 H535 Q539.2,1395 539.2,1391 V1384.3" stroke-width="2.3" fill="white" />
<line x1="404.6" y1="1379.0" x2="404.6" y2="1467.5" stroke-width="2.1" stroke-linecap="butt"/>
<line x1="633.0" y1="1379.0" x2="633.0" y2="1467.5" stroke-width="2.1" stroke-linecap="butt"/>
<line x1="404.6" y1="1452.5" x2="578.6" y2="1452.5" stroke-width="2.1" stroke-linecap="butt"/>
<line x1="599.2" y1="1452.5" x2="633.0" y2="1452.5" stroke-width="2.1" stroke-linecap="butt"/>
<polygon points="404.6,1452.5 437.6,1446.8 437.6,1458.2" fill="#1b1b1b" stroke="none"/>
<polygon points="633.0,1452.5 600.0,1458.2 600.0,1446.8" fill="#1b1b1b" stroke="none"/>
<g aria-label="144 mm" transform="translate(420.21,1439.20)"><g transform="scale(1.0094,1.1164)"><text y="0"><tspan x="0.00">1</tspan><tspan x="22.25">4</tspan><tspan x="44.49">4</tspan></text></g><g transform="scale(1.0094,1.0494)"><text y="0"><tspan x="77.85">m</tspan><tspan x="113.42">m</tspan></text></g></g>
<path d="M574.9,1624.3 H603.2 L605.8,1664 Q605.9,1667 603,1667.5 Q589,1670 575.5,1667.5 Q572.4,1667 572.6,1664 Z" stroke-width="2.3" fill="white" />
<path d="M578.4,1623.5 H599.4 V1626.5 Q589,1630.5 578.4,1626.5 Z" stroke-width="1" fill="#1b1b1b" />
<path d="M521.0,1737.3 L535.7,1737.3 L578.3,1675.5" stroke-width="2.1" fill="none" stroke-linejoin="miter"/>
<polygon points="578.3,1675.5 568.5,1700.3 558.6,1693.5" fill="#1b1b1b" stroke="none"/>
<g aria-label="G1/2" transform="translate(416.42,1756.40)"><g transform="scale(1.0494,1.1164)"><text y="0"><tspan x="0.00">G</tspan><tspan x="31.12">1</tspan><tspan x="53.36">/</tspan><tspan x="64.47">2</tspan></text></g></g>
<rect x="711.9" y="1545.5" width="21.0" height="122.5" fill="#1b1b1b" stroke="none"/>
<clipPath id="c711_1545"><rect x="711.9" y="1545.5" width="21.0" height="122.5"/></clipPath>
<g clip-path="url(#c711_1545)" stroke="#fff" stroke-width="2.2" fill="none" stroke-linecap="round">
<path d="M715.2,1554.0 Q723.4,1553.5 729.9,1551.2"/>
<path d="M715.2,1560.5 Q723.4,1560.0 729.9,1557.7"/>
<path d="M715.2,1567.0 Q723.4,1566.5 729.9,1564.2"/>
<path d="M715.2,1573.5 Q723.4,1573.0 729.9,1570.7"/>
<path d="M715.2,1580.0 Q723.4,1579.5 729.9,1577.2"/>
<path d="M715.2,1586.5 Q723.4,1586.0 729.9,1583.7"/>
<path d="M715.2,1593.0 Q723.4,1592.5 729.9,1590.2"/>
<path d="M715.2,1599.5 Q723.4,1599.0 729.9,1596.7"/>
<path d="M715.2,1606.0 Q723.4,1605.5 729.9,1603.2"/>
<path d="M715.2,1612.5 Q723.4,1612.0 729.9,1609.7"/>
<path d="M715.2,1619.0 Q723.4,1618.5 729.9,1616.2"/>
<path d="M715.2,1625.5 Q723.4,1625.0 729.9,1622.7"/>
<path d="M715.2,1632.0 Q723.4,1631.5 729.9,1629.2"/>
<path d="M715.2,1638.5 Q723.4,1638.0 729.9,1635.7"/>
<path d="M715.2,1645.0 Q723.4,1644.5 729.9,1642.2"/>
<path d="M715.2,1651.5 Q723.4,1651.0 729.9,1648.7"/>
<path d="M715.2,1658.0 Q723.4,1657.5 729.9,1655.2"/>
<path d="M715.2,1664.5 Q723.4,1664.0 729.9,1661.7"/>
<path d="M715.2,1671.0 Q723.4,1670.5 729.9,1668.2"/>
</g>
<path d="M711.9,1667 Q722,1664 732.9,1667 V1673 H711.9 Z" stroke-width="0" fill="white" stroke="none"/>
<path d="M712.6,1668.2 Q722,1665.8 732.2,1668.2" stroke-width="2.4" fill="none" />
<circle cx="722.8" cy="1471.0" r="34.8" stroke-width="2.3" fill="white"/>
<path d="M713.4,1505.5 V1508.5 M730.6,1505.5 V1508.5" stroke-width="1.6" fill="none" />
<path d="M706.2,1508.4 H738.2 L736.7,1549.3 H707.7 Z" stroke-width="2.3" fill="white" />
<path d="M711.9,1545.5 H732.9 V1549.3 H711.9 Z" stroke-width="1" fill="#1b1b1b" />
<path d="M991.0,1394.4 L799.0,1394.4 L657.6,1535.8" stroke-width="2.1" fill="none" stroke-linejoin="miter"/>
<polygon points="748.0,1445.4 766.6,1418.0 775.4,1426.8" fill="#1b1b1b" stroke="none"/>
<polygon points="697.6,1495.8 679.0,1523.2 670.2,1514.4" fill="#1b1b1b" stroke="none"/>
<g><circle cx="823.6" cy="1362.5" r="15" stroke-width="3.3" fill="none"/><line x1="812.3" y1="1383.1" x2="834.9" y2="1341.9" stroke-width="3.4" stroke-linecap="butt"/></g>
<g aria-label="50 mm" transform="translate(850.70,1377.80)"><g transform="scale(1.0002,1.1164)"><text y="0"><tspan x="0.00">5</tspan><tspan x="22.25">0</tspan></text></g><g transform="scale(1.0002,1.0494)"><text y="0"><tspan x="55.61">m</tspan><tspan x="91.17">m</tspan></text></g></g>
<path d="M801.0,1594.0 L787.6,1594.0 L744.0,1532.0" stroke-width="2.1" fill="none" stroke-linejoin="miter"/>
<polygon points="744.0,1532.0 764.4,1550.6 754.6,1557.5" fill="#1b1b1b" stroke="none"/>
<g aria-label="G1/2" transform="translate(815.33,1613.00)"><g transform="scale(1.0423,1.1164)"><text y="0"><tspan x="0.00">G</tspan><tspan x="31.12">1</tspan><tspan x="53.36">/</tspan><tspan x="64.47">2</tspan></text></g></g>
<circle cx="987.1" cy="1020.7" r="141.4" stroke-width="2.3" fill="none"/>
<path d="M982.9,926.4 V918.8 Q982.9,917.3 984.4,917.3 H989.2 Q990.7,917.3 990.7,918.8 V926.4 A22,22 0 1 1 982.9,926.4 Z" stroke-width="2.3" fill="white" />
<path d="M962.4,1077.5 A34.1,34.1 0 1 1 1010.4,1077.5 V1160.5 A24,24 0 0 1 962.4,1160.5 Z" stroke-width="2.3" fill="white" />
<line x1="782.0" y1="1020.9" x2="986.0" y2="1020.9" stroke-width="2.1" stroke-linecap="butt"/>
<line x1="782.0" y1="1184.4" x2="986.0" y2="1184.4" stroke-width="2.1" stroke-linecap="butt"/>
<line x1="794.8" y1="1020.9" x2="794.8" y2="1184.4" stroke-width="2.1" stroke-linecap="butt"/>
<polygon points="794.8,1020.9 800.5,1048.9 789.0,1048.9" fill="#1b1b1b" stroke="none"/>
<polygon points="794.8,1184.4 789.0,1156.4 800.5,1156.4" fill="#1b1b1b" stroke="none"/>
<g aria-label="119 mm" transform="translate(779.10,1178.16) rotate(-90)"><g transform="scale(1.0003,1.1200)"><text y="0"><tspan x="0.00">1</tspan><tspan x="19.65">1</tspan><tspan x="41.89">9</tspan></text></g><g transform="scale(1.0003,1.0528)"><text y="0"><tspan x="75.25">m</tspan><tspan x="110.82">m</tspan></text></g></g>
<path d="M1354.0,857.3 L1147.5,857.3 L849.3,1155.5" stroke-width="2.1" fill="none" stroke-linejoin="miter"/>
<polygon points="1085.3,919.3 1103.6,892.1 1112.5,901.0" fill="#1b1b1b" stroke="none"/>
<polygon points="885.5,1119.3 867.2,1146.5 858.3,1137.6" fill="#1b1b1b" stroke="none"/>
<g><circle cx="1174.8" cy="829.0" r="15" stroke-width="3.3" fill="none"/><line x1="1163.5" y1="849.6" x2="1186.1" y2="808.4" stroke-width="3.4" stroke-linecap="butt"/></g>
<g aria-label="180 mm" transform="translate(1201.51,844.00)"><g transform="scale(1.0087,1.1164)"><text y="0"><tspan x="0.00">1</tspan><tspan x="22.25">8</tspan><tspan x="44.49">0</tspan></text></g><g transform="scale(1.0087,1.0494)"><text y="0"><tspan x="77.85">m</tspan><tspan x="113.42">m</tspan></text></g></g>
<path d="M1317.7,928.8 L1110.0,928.8 L929.5,1109.3" stroke-width="2.1" fill="none" stroke-linejoin="miter"/>
<polygon points="1010.4,1028.0 1028.7,1000.8 1037.6,1009.7" fill="#1b1b1b" stroke="none"/>
<polygon points="962.4,1077.8 944.1,1105.0 935.2,1096.1" fill="#1b1b1b" stroke="none"/>
<g><circle cx="1157.5" cy="902.7" r="15" stroke-width="3.3" fill="none"/><line x1="1146.2" y1="923.3" x2="1168.8" y2="882.1" stroke-width="3.4" stroke-linecap="butt"/></g>
<g aria-label="50 mm" transform="translate(1183.39,917.50)"><g transform="scale(1.0100,1.1164)"><text y="0"><tspan x="0.00">5</tspan><tspan x="22.25">0</tspan></text></g><g transform="scale(1.0100,1.0494)"><text y="0"><tspan x="55.61">m</tspan><tspan x="91.17">m</tspan></text></g></g>
<path d="M728.8,878.2 L914.8,878.2 L1036.2,999.6" stroke-width="2.1" fill="none" stroke-linejoin="miter"/>
<polygon points="970.6,932.4 944.0,914.4 952.6,905.8" fill="#1b1b1b" stroke="none"/>
<polygon points="1002.0,963.8 1028.6,981.8 1020.0,990.4" fill="#1b1b1b" stroke="none"/>
<g><circle cx="754.6" cy="851.3" r="15" stroke-width="3.3" fill="none"/><line x1="743.3" y1="871.9" x2="765.9" y2="830.7" stroke-width="3.4" stroke-linecap="butt"/></g>
<g aria-label="32 mm" transform="translate(781.50,866.30)"><g transform="scale(1.0027,1.1164)"><text y="0"><tspan x="0.00">3</tspan><tspan x="22.25">2</tspan></text></g><g transform="scale(1.0027,1.0494)"><text y="0"><tspan x="55.61">m</tspan><tspan x="91.17">m</tspan></text></g></g>
<line x1="1110.6" y1="1287.0" x2="1198.3" y2="1287.0" stroke-width="2.1" stroke-linecap="butt"/>
<line x1="1123.9" y1="1170.5" x2="1123.9" y2="1323.5" stroke-width="2.1" stroke-linecap="butt"/>
<polygon points="1123.9,1207.4 1118.4,1178.9 1129.4,1178.9" fill="#1b1b1b" stroke="none"/>
<polygon points="1123.9,1287.4 1129.4,1315.9 1118.4,1315.9" fill="#1b1b1b" stroke="none"/>
<g aria-label="54 mm" transform="translate(1092.50,1317.31) rotate(-90)"><g transform="scale(1.0084,1.1200)"><text y="0"><tspan x="0.00">5</tspan><tspan x="22.25">4</tspan></text></g><g transform="scale(1.0084,1.0528)"><text y="0"><tspan x="55.61">m</tspan><tspan x="91.17">m</tspan></text></g></g>
<path d="M1162,1198.2 C1150,1198.5 1145.8,1207 1145.8,1214.5 C1145.8,1222 1150,1230 1162,1230.2 Z" stroke-width="1" fill="#1b1b1b" />
<ellipse cx="1183.1" cy="1219.1" rx="27.8" ry="44.7" stroke-width="2.3" fill="white"/>
<ellipse cx="1188.1" cy="1218.7" rx="27.2" ry="43.4" stroke-width="3.2" fill="white"/>
<path d="M1203,1204.7 L1190.7,1198.9 C1181,1199 1175.9,1210 1175.9,1220.7 C1175.9,1231 1181,1240 1186.8,1240.1 L1200.4,1239.3 Z" stroke-width="3.0" fill="white" />
<path d="M1191.6,1205.5 C1186.8,1213 1186.8,1230 1191.6,1237.5" stroke-width="2.2" fill="none" />
<path d="M1197.9,1209.5 C1192.6,1216 1192.6,1228 1198.6,1234.2" stroke-width="2.2" fill="none" />
<line x1="1110.6" y1="1207.7" x2="1196.0" y2="1207.7" stroke-width="2.1" stroke-linecap="butt"/>
<path d="M1252,1249.6 L1464.2,1285.6 L1464,1322 L1430,1316 L1249,1287.6 Z" stroke-width="0" fill="white" stroke="none"/>
<path d="M1252,1249.6 L1464.2,1285.6 M1249,1287.6 L1430,1316" stroke-width="2.3" fill="none" />
<path d="M1200.4,1209 V1286 C1206,1289.5 1215,1290.8 1226,1290.8 C1236,1290.8 1243,1289.5 1247,1287.6 L1251.3,1248 V1209 Z" stroke-width="0" fill="white" stroke="none"/>
<path d="M1251.3,1248.5 V1209 M1200.4,1209 V1286 C1206,1289.5 1215,1290.8 1226,1290.8 C1236,1290.8 1243,1289.5 1247,1287.6" stroke-width="2.3" fill="none" />
<ellipse cx="1225.9" cy="1208.9" rx="25.4" ry="5.9" stroke-width="2.3" fill="white"/>
<path d="M1200.4,1243.6 C1207,1247.2 1216,1248.3 1226,1248.3 C1236,1248.3 1244,1246.8 1248.2,1244.8" stroke-width="2.3" fill="none" />
<path d="M1251.5,1249.3 C1236,1252 1227.3,1260 1227.3,1269 C1227.3,1278 1234,1285.5 1249,1288" stroke-width="3.2" fill="white" />
<ellipse cx="1463.8" cy="1304.4" rx="10.6" ry="18.0" stroke-width="3.2" fill="white" transform="rotate(8 1463.8 1304.4)"/>
<path d="M1430.2,1315.6 L1430.2,1322.5 Q1430.6,1325.2 1435,1326.2 Q1447,1328 1457.5,1323.6 M1430.2,1315.8 Q1433.5,1312.8 1437.5,1314.4 Q1448,1319 1458.5,1323.2" stroke-width="2.2" fill="none" />
<path d="M1478.7,1091.5 L1286.3,1091.5 L1200.5,1180.5" stroke-width="2.1" fill="none" stroke-linejoin="miter"/>
<polygon points="1199.8,1181.2 1217.7,1153.3 1226.7,1161.9" fill="#1b1b1b" stroke="none"/>
<g><circle cx="1315.2" cy="1058.4" r="15" stroke-width="3.3" fill="none"/><line x1="1303.9" y1="1079.0" x2="1326.5" y2="1037.8" stroke-width="3.4" stroke-linecap="butt"/></g>
<g aria-label="60 mm" transform="translate(1340.47,1073.40)"><g transform="scale(1.0181,1.1164)"><text y="0"><tspan x="0.00">6</tspan><tspan x="22.25">0</tspan></text></g><g transform="scale(1.0181,1.0494)"><text y="0"><tspan x="55.61">m</tspan><tspan x="91.17">m</tspan></text></g></g>
<path d="M1471.6,1169.6 L1279.0,1169.6 L1240.0,1209.0" stroke-width="2.1" fill="none" stroke-linejoin="miter"/>
<polygon points="1239.7,1209.4 1258.3,1182.0 1267.1,1190.8" fill="#1b1b1b" stroke="none"/>
<g><circle cx="1307.9" cy="1134.2" r="15" stroke-width="3.3" fill="none"/><line x1="1296.6" y1="1154.8" x2="1319.2" y2="1113.6" stroke-width="3.4" stroke-linecap="butt"/></g>
<g aria-label="35 mm" transform="translate(1334.49,1149.20)"><g transform="scale(1.0100,1.1164)"><text y="0"><tspan x="0.00">3</tspan><tspan x="22.25">5</tspan></text></g><g transform="scale(1.0100,1.0494)"><text y="0"><tspan x="55.61">m</tspan><tspan x="91.17">m</tspan></text></g></g>
<path d="M1658.6,1248.4 L1467.0,1248.4 L1428.2,1288.0" stroke-width="2.1" fill="none" stroke-linejoin="miter"/>
<polygon points="1428.2,1288.0 1446.1,1260.7 1455.1,1269.6" fill="#1b1b1b" stroke="none"/>
<g><circle cx="1496.2" cy="1213.0" r="15" stroke-width="3.3" fill="none"/><line x1="1484.9" y1="1233.6" x2="1507.5" y2="1192.4" stroke-width="3.4" stroke-linecap="butt"/></g>
<g aria-label="25 mm" transform="translate(1521.07,1227.60)"><g transform="scale(1.0214,1.1164)"><text y="0"><tspan x="0.00">2</tspan><tspan x="22.25">5</tspan></text></g><g transform="scale(1.0214,1.0494)"><text y="0"><tspan x="55.61">m</tspan><tspan x="91.17">m</tspan></text></g></g>
<line x1="1198.3" y1="1286.7" x2="1190.8" y2="1334.2" stroke-width="2.1" stroke-linecap="butt"/>
<line x1="1462.2" y1="1323.0" x2="1454.0" y2="1370.2" stroke-width="2.1" stroke-linecap="butt"/>
<line x1="1194.2" y1="1319.2" x2="1239.2" y2="1325.8" stroke-width="2.1" stroke-linecap="butt"/>
<line x1="1403.0" y1="1350.1" x2="1456.0" y2="1357.4" stroke-width="2.1" stroke-linecap="butt"/>
<polygon points="1194.2,1319.2 1225.7,1318.0 1224.0,1329.4" fill="#1b1b1b" stroke="none"/>
<polygon points="1456.5,1357.5 1425.0,1358.7 1426.7,1347.3" fill="#1b1b1b" stroke="none"/>
<g aria-label="225 mm" transform="translate(1247.30,1339.50) rotate(9.400) translate(-1.42,0)"><g transform="scale(1.0164,1.1164)"><text y="0"><tspan x="0.00">2</tspan><tspan x="22.25">2</tspan><tspan x="44.49">5</tspan></text></g><g transform="scale(1.0164,1.0494)"><text y="0"><tspan x="77.85">m</tspan><tspan x="113.42">m</tspan></text></g></g>
</svg>
</body></html>
